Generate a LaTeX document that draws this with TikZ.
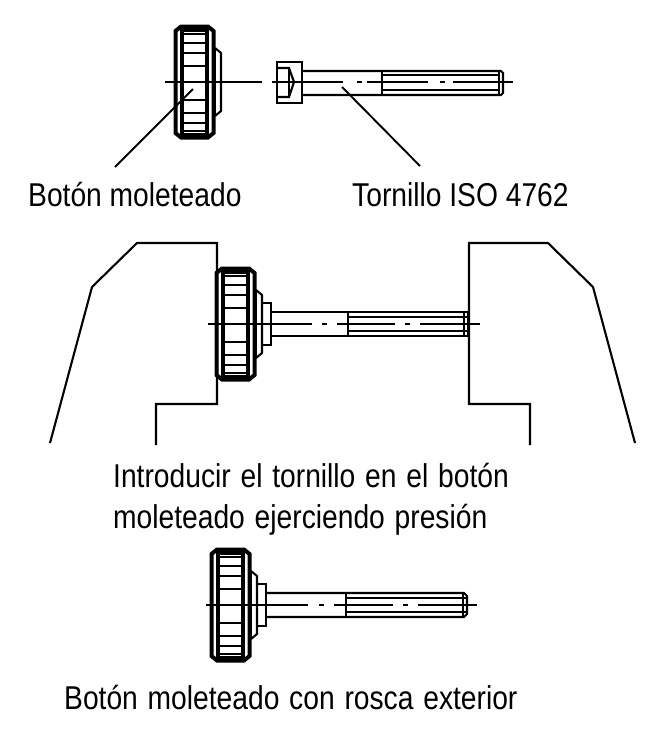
\documentclass[tikz,border=0pt]{standalone}
\usepackage{fontspec}
\setmainfont[FakeStretch=0.855]{Liberation Sans}
\newfontfamily\widefont[FakeStretch=0.855,WordSpace=1.25]{Liberation Sans}
\tikzset{
  line/.style={line width=2.1pt, line join=miter},
  heavy/.style={line width=4pt, line join=miter},
  axis/.style={line width=2.1pt},
  leader/.style={line width=1.9pt},
  caption/.style={anchor=base west, inner sep=0pt, font=\fontsize{33}{38}\selectfont},
  widecaption/.style={caption, font=\fontsize{33}{38}\selectfont\widefont},
  knobpic/.pic={
    % knob seen from the side, origin at left end of the axis
    \draw[heavy] (1.5,-51)--(7,-55.5)--(34,-55.5)--(39.5,-51)--(39.5,51)--(34,55.5)--(7,55.5)--(1.5,51)--cycle;
    \fill (7,-56) rectangle (34,-50.5);
    \fill (7,50.5) rectangle (34,56);
    \draw[heavy] (8,-54)--(8,54);
    \draw[heavy] (32.5,-54)--(32.5,54);
    \foreach \ribY in {-48,-39,-29,-16,18,31,41,49}
      \draw[line] (9,\ribY)--(31,\ribY);
    \draw[line] (41,-34)--(47,-29)--(47,29)--(41,34);
    \draw[line] (41,-34)--(41,34);
  },
  collarpic/.pic={
    % collar and shank with thread, origin at collar on the axis
    \draw[line] (0,-21)--(9,-21)--(9,21)--(0,21);
    \draw[line] (9,-12)--(\threadX-\endCut,-12)--(\threadX,-12+\endCut)--(\threadX,12-\endCut)--(\threadX-\endCut,12)--(9,12);
    \draw[line] (\shankX,-12)--(\shankX,12);
    \draw[line] (\shankX,-7)--(\threadX-1,-7);
    \draw[line] (\shankX,7)--(\threadX-1,7);
    \draw[line, line width=1.6pt] (\threadX-4,-12)--(\threadX-4,12);
  }
}
\begin{document}
\begin{tikzpicture}[x=1pt,y=-1pt]
\useasboundingbox (0,0) rectangle (665,750);

% top: knob and screw apart
\pic at (174,82) {knobpic};
\draw[line] (277,62) rectangle (302,103);
\draw[line] (277,68)--(289,68)--(294,82)--(289,97)--(277,97);
\draw[line] (289,68)--(289,97);
\draw[line] (302,71)--(501,71)--(503,73)--(503,93)--(501,95)--(302,95);
\draw[line] (382,71)--(382,95);
\draw[line] (382,75)--(500,75);
\draw[line] (382,90)--(500,90);
\draw[line, line width=1.6pt] (499,71)--(499,95);
\draw[axis] (165,82)--(262,82) (272,82)--(343,82) (357,82)--(362,82) (367,82)--(428,82) (440,82)--(445,82) (453,82)--(513,82);

\coordinate (knobTip) at (193,89);
\coordinate (knobEnd) at (115,167);
\coordinate (screwTip) at (342,87);
\coordinate (screwEnd) at (420,166);
\draw[leader] (knobTip)--(knobEnd);
\draw[leader] (screwTip)--(screwEnd);
\node[caption] (knobLabel) at (28,206) {Botón moleteado};
\node[caption] (screwLabel) at (352,206) {Tornillo ISO 4762};

% middle: pressing between the jaws
\draw[line] (50,443)--(92,287)--(137,243)--(217,243)--(217,404)--(156,404)--(156,445);
\draw[line] (635,443)--(593,287)--(548,243)--(469,243)--(469,404)--(530,404)--(530,445);
\pic at (215,324) {knobpic};
\def\shankX{86}\def\threadX{206}\def\endCut{0}
\pic at (262,324) {collarpic};
\draw[axis] (208,324)--(312,324) (322,324)--(327,324) (337,324)--(395,324) (405,324)--(410,324) (420,324)--(480,324);
\node[widecaption] (pressLabelA) at (113,487) {Introducir el tornillo en el botón};
\node[widecaption] (pressLabelB) at (113,528) {moleteado ejerciendo presión};

% bottom: finished knob
\pic at (210,605) {knobpic};
\def\shankX{89}\def\threadX{210}\def\endCut{3}
\pic at (257,605) {collarpic};
\draw[axis] (206,605)--(308,605) (319,605)--(324,605) (334,605)--(393,605) (403,605)--(408,605) (418,605)--(477,605);
\node[widecaption] (finalLabel) at (64,709) {Botón moleteado con rosca exterior};
\end{tikzpicture}
\end{document}
